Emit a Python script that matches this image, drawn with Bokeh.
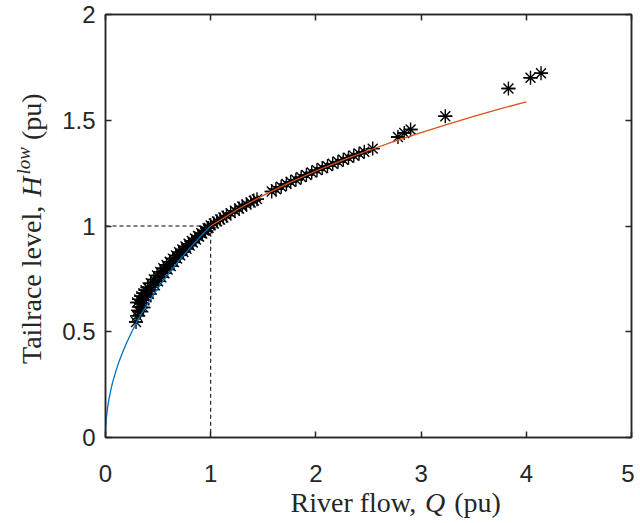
from bokeh.plotting import figure
from bokeh.layouts import row, column
from bokeh.models import Range1d, LinearAxis, FixedTicker, ColumnDataSource
from bokeh.core.properties import value
from bokeh.embed import file_html
from bokeh.resources import INLINE

# ---------------- data ----------------
x_ticks = [0, 1, 2, 3, 4, 5]
x_tick_labels = ["0", "1", "2", "3", "4", "5"]
y_ticks = [0, 0.5, 1, 1.5, 2]
y_tick_labels = ["0", "0.5", "1", "1.5", "2"]

# fitted curve below rated flow (blue)
fit_low_q = [0, 0.002, 0.005, 0.01, 0.02, 0.03, 0.05, 0.07, 0.1, 0.13, 0.16, 0.2,
             0.25, 0.3, 0.35, 0.4, 0.5, 0.6, 0.7, 0.8, 0.9, 1.0]
fit_low_h = [0, 0.045, 0.071, 0.1, 0.141, 0.173, 0.224, 0.265, 0.316, 0.361, 0.4, 0.447,
             0.5, 0.548, 0.592, 0.632, 0.707, 0.775, 0.837, 0.894, 0.949, 1.0]

# fitted curve above rated flow (orange)
fit_high_q = [1, 1.25, 1.5, 1.75, 2, 2.25, 2.5, 2.75, 3, 3.25, 3.5, 3.75, 4]
fit_high_h = [1, 1.077, 1.145, 1.205, 1.260, 1.310, 1.357, 1.401, 1.442, 1.481, 1.518, 1.554, 1.587]

# rated point guide (dashed)
ref_q = [0, 1, 1]
ref_h = [1, 1, 0]

# observations (asterisks)
obs_q = [0.29, 0.30, 0.33, 0.36,
         0.30, 0.32, 0.34, 0.36, 0.38, 0.40, 0.43, 0.46, 0.49, 0.52, 0.55, 0.58, 0.61,
         0.64, 0.67, 0.70, 0.73, 0.76, 0.79, 0.82, 0.85, 0.88, 0.91, 0.94, 0.97,
         0.31, 0.33, 0.35, 0.37, 0.39, 0.41, 0.44, 0.47, 0.50, 0.53, 0.56, 0.59, 0.62,
         0.65, 0.68, 0.71, 0.74, 0.77, 0.80, 0.83, 0.86, 0.89, 0.92, 0.95, 0.98,
         1.00, 1.03, 1.06, 1.09, 1.12, 1.15, 1.19, 1.23, 1.27, 1.30, 1.34, 1.38, 1.41, 1.44,
         1.58, 1.62, 1.67, 1.72, 1.76, 1.81, 1.86, 1.91, 1.96, 2.01, 2.06, 2.11, 2.16,
         2.21, 2.26, 2.31, 2.36, 2.41, 2.46, 2.54,
         2.78, 2.84, 2.90, 3.23, 3.83, 4.04, 4.14]
obs_h = [0.546, 0.575, 0.595, 0.615,
         0.638, 0.653, 0.668, 0.682, 0.696, 0.709, 0.729, 0.747, 0.766, 0.783, 0.800, 0.816, 0.831,
         0.846, 0.861, 0.876, 0.889, 0.903, 0.916, 0.929, 0.941, 0.953, 0.966, 0.978, 0.989,
         0.601, 0.617, 0.634, 0.649, 0.663, 0.678, 0.699, 0.720, 0.739, 0.758, 0.776, 0.794, 0.811,
         0.829, 0.846, 0.862, 0.877, 0.892, 0.907, 0.922, 0.936, 0.950, 0.964, 0.978, 0.991,
         1.003, 1.012, 1.022, 1.031, 1.040, 1.049, 1.061, 1.072, 1.083, 1.092, 1.102, 1.111, 1.120, 1.127,
         1.163, 1.174, 1.186, 1.199, 1.209, 1.219, 1.231, 1.241, 1.253, 1.264, 1.274, 1.283, 1.294,
         1.304, 1.313, 1.323, 1.333, 1.342, 1.351, 1.366,
         1.421, 1.440, 1.456, 1.519, 1.650, 1.701, 1.722]

# axis title pieces: (text, italic, size factor, raise in px)
x_title = [("River flow, ", False, 1.0, 0), ("Q", True, 1.0, 0), (" (pu)", False, 1.0, 0)]
y_title = [("Tailrace level, ", False, 1.0, 0), ("H", True, 1.0, 0), ("low", True, 0.68, 11),
           (" (pu)", False, 1.0, 0)]

# ---------------- layout constants (page pixels) ----------------
TOTAL_W, TOTAL_H = 634, 521
YT_W = 50                      # width of y-title strip
MAIN_W = TOTAL_W - YT_W
MAIN_H = 492
XT_H = TOTAL_H - MAIN_H
FRAME_L, FRAME_T, FRAME_R, FRAME_B = 105, 14, 631, 437
BL, BR = FRAME_L - YT_W, TOTAL_W - FRAME_R
AX = "#262626"
TICK_FONT = "Liberation Sans"
LABEL_FONT = "Liberation Serif"
LS = 28
MID = 0.3375        # distance baseline -> middle of the font box, in em

p = figure(width=MAIN_W, height=MAIN_H, x_range=Range1d(0, 5), y_range=Range1d(0, 2),
           output_backend="svg", toolbar_location=None, title=None,
           min_border_left=BL, min_border_right=BR,
           min_border_top=FRAME_T, min_border_bottom=MAIN_H - FRAME_B)
p.grid.visible = False
p.outline_line_color = AX
p.outline_line_width = 1.5
p.background_fill_color = "white"
p.border_fill_color = "white"

p.add_layout(LinearAxis(), "above")
p.add_layout(LinearAxis(), "right")

for ax in p.xaxis:
    ax.ticker = FixedTicker(ticks=x_ticks)
    ax.major_label_overrides = {t: l for t, l in zip(x_ticks, x_tick_labels)}
for ax in p.yaxis:
    ax.ticker = FixedTicker(ticks=y_ticks)
    ax.major_label_overrides = {t: l for t, l in zip(y_ticks, y_tick_labels)}

for ax in p.xaxis + p.yaxis:
    ax.axis_label = None
    ax.major_tick_in = 6
    ax.major_tick_out = 0
    ax.minor_tick_in = 0
    ax.minor_tick_out = 0
    ax.axis_line_color = AX
    ax.axis_line_width = 1.5
    ax.major_tick_line_color = AX
    ax.major_tick_line_width = 1.5
    ax.major_label_text_font = TICK_FONT
    ax.major_label_text_font_size = "24px"
    ax.major_label_text_color = AX

p.below[0].major_label_standoff = 27
p.left[0].major_label_standoff = 10
# box axes on top/right: ticks only, no labels
p.above[0].major_label_overrides = {t: "" for t in x_ticks}
p.right[0].major_label_overrides = {t: "" for t in y_ticks}
for ax in (p.above[0], p.right[0]):
    ax.major_label_text_font_size = "1px"
    ax.major_label_standoff = 0

# ---------------- glyphs ----------------
p.line(ref_q, ref_h, line_color="black", line_width=1, line_dash="4 3")
src = ColumnDataSource(dict(q=obs_q, h=obs_h))
p.scatter("q", "h", source=src, marker="asterisk", size=14, line_color="black", line_width=1.4)
p.scatter("q", "h", source=src, marker="dash", size=14, line_color="black", line_width=1.4)
p.line(fit_low_q, fit_low_h, line_color="#0072BD", line_width=1.3)
p.line(fit_high_q, fit_high_h, line_color="#D95319", line_width=1.3)

# ---------------- axis titles in blank strips ----------------
REG = {' ': 0.25, 'R': 0.667, 'i': 0.278, 'v': 0.5, 'e': 0.444, 'r': 0.333, 'f': 0.333,
       'l': 0.278, 'o': 0.5, 'w': 0.722, ',': 0.25, '(': 0.333, ')': 0.333, 'p': 0.5,
       'u': 0.5, 'T': 0.611, 'a': 0.444, 'c': 0.444}
ITA = {'Q': 0.722, 'H': 0.722, 'l': 0.278, 'o': 0.5, 'w': 0.667}


def tw(s, size, italic=False):
    tab = ITA if italic else REG
    return sum(tab.get(ch, 0.5) for ch in s) * size


def blank(w, h, xr, yr, bl, br, bt, bb):
    f = figure(width=w, height=h, x_range=Range1d(*xr), y_range=Range1d(*yr),
               output_backend="svg", toolbar_location=None, title=None,
               x_axis_location=None, y_axis_location=None,
               min_border_left=bl, min_border_right=br,
               min_border_top=bt, min_border_bottom=bb)
    f.grid.visible = False
    f.outline_line_color = None
    f.background_fill_color = "white"
    f.border_fill_color = "white"
    return f


# x title strip: frame aligned with main frame horizontally; data x = page x, data y = TOTAL_H - page y
xt = blank(MAIN_W, XT_H, (FRAME_L, FRAME_R), (0, XT_H), BL, BR, 0, 0)
px, base = 290.0, 511.0
for txt, it, fac, rz in x_title:
    sz = LS * fac
    lead = len(txt) - len(txt.lstrip(" "))
    px += lead * REG[" "] * sz
    core = txt.strip(" ")
    xt.text(x=[px], y=[TOTAL_H - (base - rz - MID * sz)], text=[core],
            text_font=value(LABEL_FONT), text_font_size=f"{sz:.0f}px",
            text_font_style="italic" if it else "normal", text_color=AX,
            text_align="left", text_baseline="middle")
    trail = len(txt) - len(txt.rstrip(" "))
    px += tw(core, sz, it) + trail * REG[" "] * sz + (2 if it else 0)

# y title strip (rotated text): frame spans page y FRAME_T..TOTAL_H; data x = page x, data y = TOTAL_H - page y
yt = blank(YT_W, TOTAL_H, (0, YT_W), (0, TOTAL_H - FRAME_T), 0, 0, FRAME_T, 0)
bx, py = 40.5, 363.5
for txt, it, fac, rz in y_title:
    sz = LS * fac
    lead = len(txt) - len(txt.lstrip(" "))
    py -= lead * REG[" "] * sz
    core = txt.strip(" ")
    yt.text(x=[bx - rz - MID * sz], y=[TOTAL_H - py], text=[core],
            text_font=value(LABEL_FONT), text_font_size=f"{sz:.0f}px",
            text_font_style="italic" if it else "normal", text_color=AX,
            text_align="left", text_baseline="middle", angle=1.5707963)
    trail = len(txt) - len(txt.rstrip(" "))
    py -= tw(core, sz, it) + trail * REG[" "] * sz + (2 if it and fac == 1.0 else 0)

layout = row(yt, column(p, xt, spacing=0), spacing=0)
open("out.html", "w").write(file_html(layout, INLINE))
